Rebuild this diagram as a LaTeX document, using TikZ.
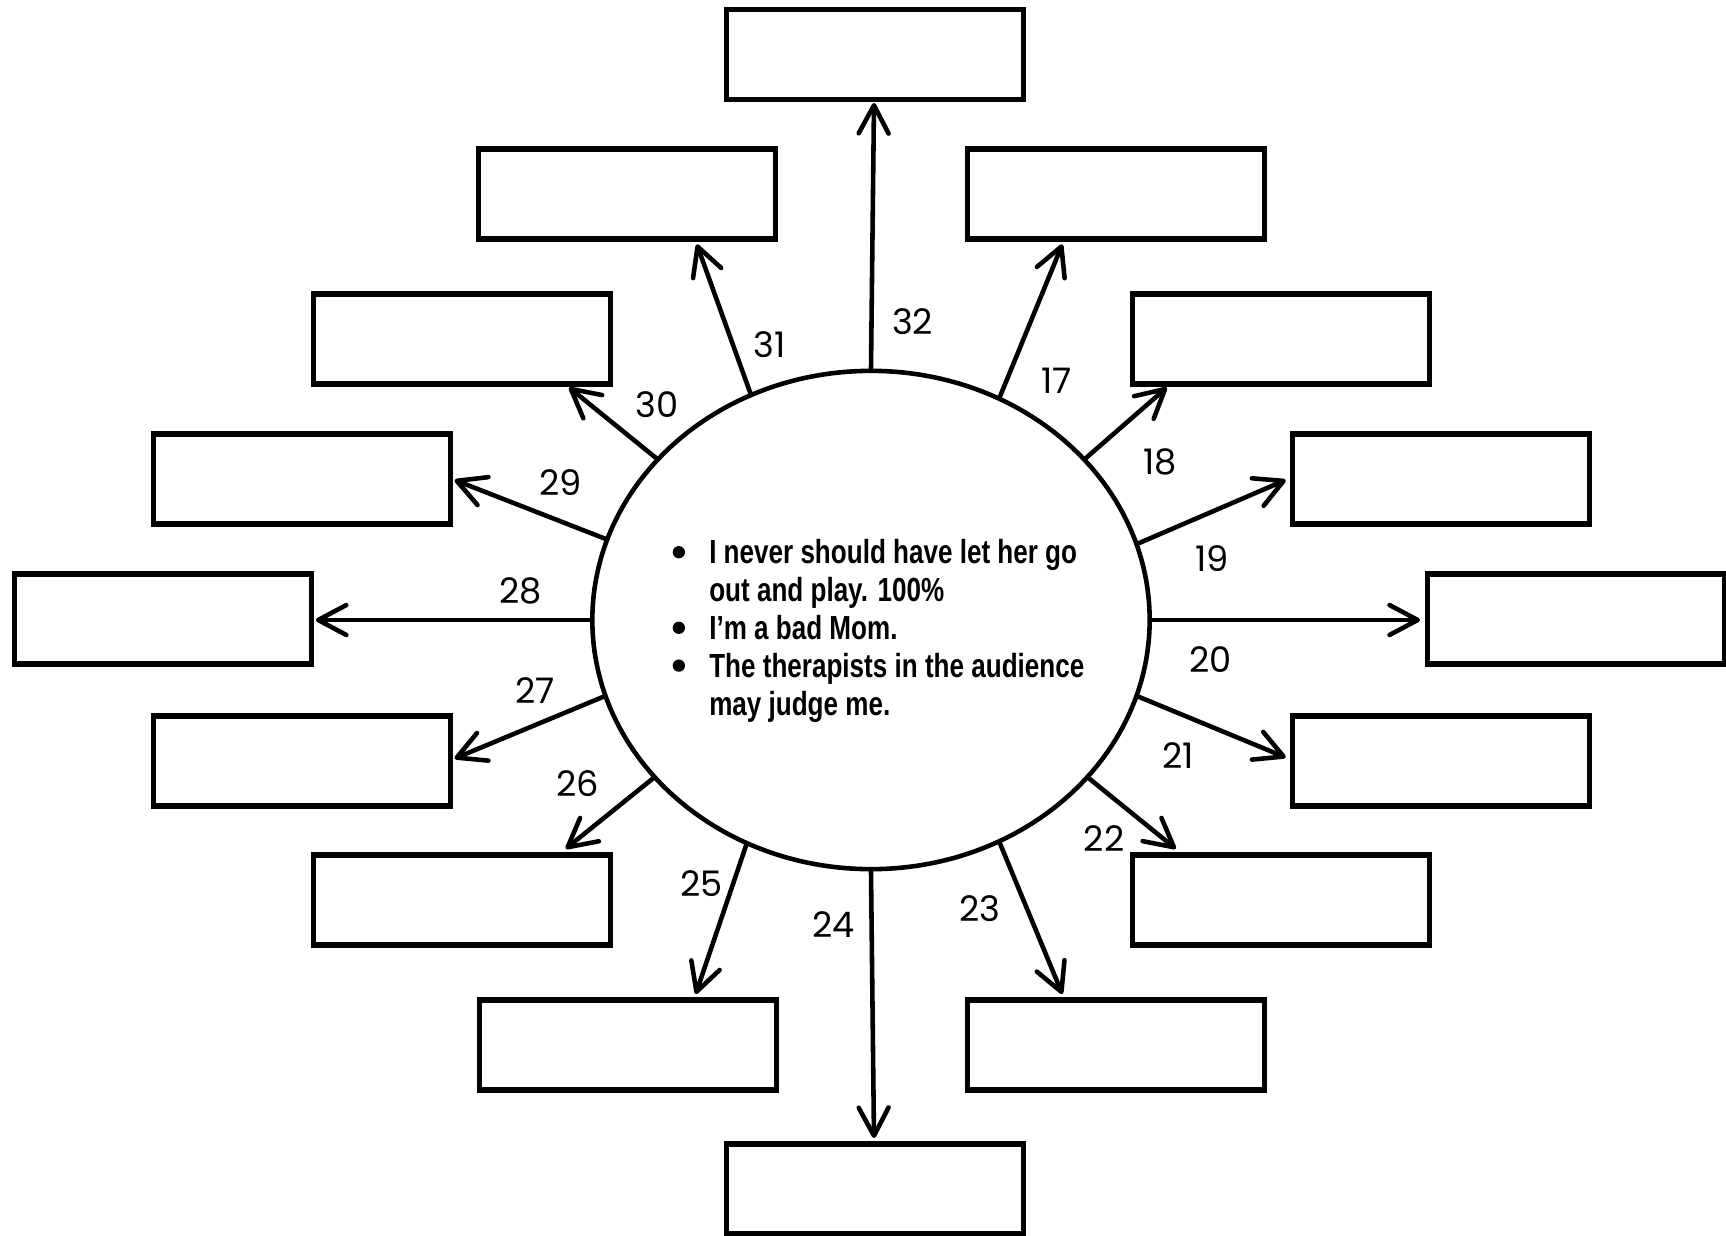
\documentclass[tikz,border=0pt]{standalone}
\usepackage{fontspec}
\setmainfont{Liberation Sans}
\newfontfamily\labfont{Poppins}
\newfontfamily\narrowfont[FakeStretch=0.78]{Liberation Sans}
\usetikzlibrary{arrows.meta,shapes.geometric}
\newcommand\mybul{\tikz[baseline=0pt]\fill (0pt,3.3pt) circle[radius=1.75pt];}
\begin{document}
\begin{tikzpicture}[x=0.01cm,y=-0.01cm,
  box/.style={draw, line width=1.55pt, minimum width=2.97cm, minimum height=0.90cm, inner sep=0},
  conn/.style={line width=1.3pt, line cap=round, -{Straight Barb[length=8pt,width=8.5pt,round]}},
  lab/.style={font=\labfont\fontsize{10}{12}\selectfont, inner sep=0},
  bubble/.style={ellipse, draw, line width=1.3pt, minimum width=5.57cm, minimum height=4.98cm, inner sep=0}]
\useasboundingbox (0,0) rectangle (1726,1236);
\node[bubble] (e) at (871,620) {};
\node[anchor=base west, inner sep=0, font=\narrowfont\bfseries\fontsize{9.5}{10.75}\selectfont] (txt) at (672,563.8)
  {\begin{tabular}[t]{@{}l@{\hspace{6.9pt}}l@{}}
   \mybul & I never should have let her go\\
   & out and play. 100\%\\
   \mybul & I’m a bad Mom.\\
   \mybul & The therapists in the audience\\
   & may judge me.
   \end{tabular}};
\foreach \n/\ang/\tx/\ty/\bx/\by/\lx/\ly in {
  32/90/874/103/875/54.5/912.6/321.4,
  31/118.4/696.8/244.4/627/194/769.5/344.6,
  17/60.4/1062.3/244.4/1116/194/1056.8/380.9,
  30/143.6/569.1/387.5/462/339/657.2/405.1,
  18/37.3/1166.8/387.5/1281/339/1160.2/462.3,
  29/163.4/454.6/480/302/479/560.3/482.2,
  19/16.9/1285.7/480/1441/479/1212/558.1,
  28/180/315.9/620/163/619/520.7/591.1,
  20/0/1420/620/1576/619/1210.9/659.4,
  27/196.4/454.6/758.5/302/761/535/690.2,
  21/-16/1285.7/757.4/1441/761/1177.9/755.1,
  26/216/565.8/848.7/462/900/577.9/783.8,
  22/-36/1175.7/848.7/1281/900/1104.1/838.8,
  25/241.6/695.7/994/628/1045/701.2/883.9,
  23/-60/1062.3/994/1116/1045/979.7/908.2,
  24/270/874/1138/875/1189/833.3/924.7}{
  \node[box] (b\n) at (\bx,\by) {};
  \coordinate (t\n) at (\tx,\ty);
  \node[lab] (l\n) at (\lx,\ly) {\n};
  \draw[conn] (e.\ang) -- (t\n);
}
\end{tikzpicture}
\end{document}
